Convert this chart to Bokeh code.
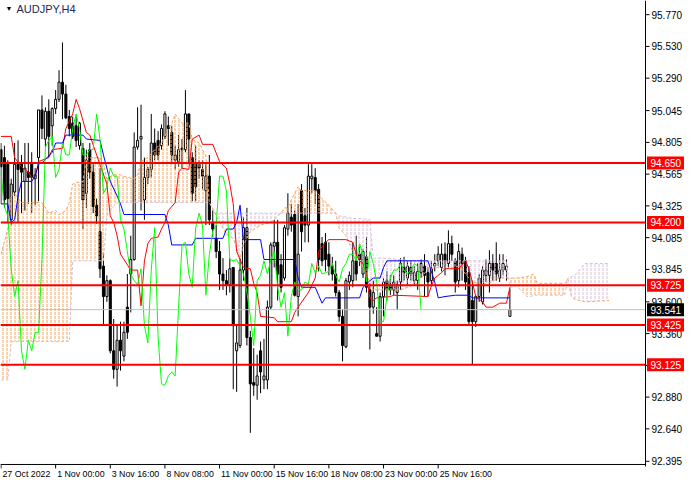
from bokeh.core.properties import value
from bokeh.embed import file_html
from bokeh.models import ColumnDataSource
from bokeh.plotting import figure
from bokeh.resources import INLINE

SYMBOL = "AUDJPY,H4"

# time axis (bar index -> label)
time_ticks = [0, 16, 32, 48, 64, 80, 96, 112, 128]
time_labels = ["27 Oct 2022", "1 Nov 00:00", "3 Nov 16:00", "8 Nov 08:00", "11 Nov 00:00",
               "15 Nov 16:00", "18 Nov 08:00", "23 Nov 00:00", "25 Nov 16:00"]

# price axis
price_ticks = [95.770, 95.530, 95.290, 95.045, 94.805, 94.565, 94.325, 94.085,
               93.845, 93.600, 93.360, 93.120, 92.880, 92.640, 92.395]

# horizontal levels and last price
levels = [94.650, 94.200, 93.725, 93.425, 93.125]
last_price = 93.541

# H4 candles
open_ = [94.75, 94.69, 94.64, 94.22, 94.43, 94.64, 94.64, 94.51, 94.58, 94.65,
         94.53, 94.69, 95.05, 94.83, 95.04, 94.93, 95.06, 95.13, 95.26, 95.17,
         95.00, 94.95, 94.93, 94.78, 94.76, 94.42, 94.75, 94.58, 94.33, 94.13,
         93.87, 93.64, 93.76, 93.23, 93.09, 93.31, 93.19, 93.56, 93.81, 93.92,
         94.77, 94.83, 94.37, 94.54, 94.60, 94.80, 94.82, 94.78, 94.85, 94.93,
         94.88, 94.67, 94.66, 94.76, 94.75, 95.02, 94.69, 94.64, 94.64, 94.60,
         94.44, 94.55, 94.20, 94.08, 93.98, 93.81, 93.76, 93.73, 93.86, 93.23,
         93.27, 93.84, 94.16, 93.33, 92.99, 92.97, 93.23, 93.01, 93.01, 93.56,
         94.02, 94.05, 93.88, 93.78, 94.15, 94.24, 94.26, 93.64, 94.44, 94.25,
         94.18, 94.53, 94.54, 94.45, 94.04, 94.05, 93.96, 93.87, 93.81, 93.67,
         93.49, 93.26, 93.75, 93.76, 93.91, 93.96, 93.81, 93.94, 93.69, 93.56,
         93.36, 93.34, 93.64, 93.76, 93.73, 93.69, 93.67, 93.75, 93.86, 93.78,
         93.86, 93.76, 93.76, 93.82, 93.87, 93.82, 93.76, 93.87, 93.91, 93.86,
         93.96, 93.89, 94.04, 93.91, 93.76, 93.96, 93.91, 93.82, 93.61, 93.45,
         93.64, 93.60, 93.80, 93.80, 93.89, 93.89, 93.78, 93.84, 93.84, 93.49]
high = [94.80, 94.78, 94.67, 94.53, 94.80, 94.82, 94.71, 94.80, 94.80, 94.73,
        94.61, 95.05, 95.16, 95.07, 95.13, 95.07, 95.20, 95.35, 95.56, 95.24,
        95.05, 95.00, 95.00, 94.96, 94.80, 94.75, 94.80, 94.64, 94.38, 94.61,
        93.97, 93.80, 93.77, 93.47, 93.42, 93.45, 93.45, 93.81, 94.10, 94.88,
        95.07, 95.09, 94.69, 94.62, 95.02, 94.91, 94.89, 94.94, 95.04, 95.00,
        94.93, 94.78, 94.86, 94.83, 95.20, 95.02, 94.73, 94.78, 94.67, 94.67,
        94.64, 94.71, 94.29, 94.18, 94.06, 93.93, 93.84, 93.93, 93.86, 93.42,
        93.93, 94.24, 94.31, 93.38, 93.25, 93.20, 93.30, 93.32, 93.61, 94.05,
        94.22, 94.22, 93.96, 94.18, 94.42, 94.34, 94.29, 94.34, 94.49, 94.31,
        94.64, 94.64, 94.61, 94.49, 94.09, 94.12, 94.05, 93.94, 93.91, 93.69,
        93.54, 93.78, 93.83, 94.05, 94.10, 94.02, 94.00, 94.09, 93.74, 93.76,
        93.56, 93.67, 93.78, 93.83, 93.80, 93.80, 93.76, 93.93, 93.94, 93.91,
        93.91, 93.87, 93.89, 93.92, 93.96, 93.86, 93.91, 93.96, 94.02, 94.04,
        94.05, 94.14, 94.10, 93.93, 94.04, 94.01, 93.94, 93.87, 93.76, 93.65,
        93.81, 93.87, 93.92, 93.99, 93.96, 94.05, 93.96, 93.96, 93.92, 93.70]
low = [94.34, 94.31, 94.20, 94.18, 94.40, 94.20, 94.27, 94.29, 94.34, 94.27,
       94.33, 94.36, 94.83, 94.77, 94.69, 94.78, 95.02, 95.11, 94.98, 94.98,
       94.85, 94.83, 94.77, 94.75, 94.15, 94.31, 94.53, 94.27, 94.19, 93.78,
       93.42, 93.60, 93.21, 93.02, 92.96, 93.08, 93.15, 93.32, 93.52, 93.91,
       94.75, 94.29, 94.22, 94.49, 94.54, 94.67, 94.67, 94.75, 94.83, 94.78,
       94.64, 94.60, 94.62, 94.61, 94.73, 94.64, 94.36, 94.36, 94.53, 94.45,
       94.18, 94.18, 94.09, 93.93, 93.69, 93.69, 93.65, 93.67, 92.94, 92.92,
       93.25, 93.76, 93.27, 92.61, 92.89, 92.86, 92.91, 92.94, 92.94, 93.54,
       93.86, 93.61, 93.67, 93.76, 94.10, 94.13, 93.64, 93.49, 93.98, 94.05,
       94.05, 94.42, 94.34, 93.83, 93.87, 93.83, 93.80, 93.76, 93.64, 93.45,
       93.15, 93.25, 93.69, 93.71, 93.76, 93.87, 93.78, 93.67, 93.24, 93.51,
       93.34, 93.30, 93.49, 93.61, 93.65, 93.65, 93.54, 93.69, 93.76, 93.73,
       93.76, 93.73, 93.69, 93.78, 93.64, 93.64, 93.73, 93.83, 93.87, 93.83,
       93.80, 93.86, 93.91, 93.67, 93.71, 93.76, 93.69, 93.43, 93.13, 93.41,
       93.60, 93.58, 93.75, 93.67, 93.76, 93.76, 93.75, 93.80, 93.76, 93.49]
close = [94.62, 94.37, 94.38, 94.49, 94.64, 94.60, 94.58, 94.61, 94.54, 94.54,
         94.56, 95.05, 94.91, 95.04, 94.85, 95.06, 95.13, 95.26, 95.17, 94.99,
         94.91, 94.85, 94.82, 94.95, 94.37, 94.67, 94.58, 94.32, 94.25, 93.85,
         93.64, 93.76, 93.23, 93.09, 93.31, 93.23, 93.37, 93.37, 93.92, 94.77,
         94.82, 94.85, 94.54, 94.60, 94.80, 94.71, 94.71, 94.91, 95.02, 94.91,
         94.71, 94.71, 94.75, 94.75, 95.02, 94.83, 94.42, 94.47, 94.61, 94.55,
         94.55, 94.22, 94.15, 93.98, 93.81, 93.76, 93.73, 93.85, 93.42, 93.29,
         93.84, 94.16, 93.33, 92.98, 92.97, 93.04, 93.07, 93.04, 93.56, 94.03,
         94.05, 93.81, 93.71, 94.16, 94.27, 94.18, 93.65, 93.96, 94.13, 94.18,
         94.55, 94.55, 94.44, 93.92, 93.91, 93.92, 93.87, 93.81, 93.67, 93.49,
         93.27, 93.76, 93.80, 93.91, 93.81, 93.92, 93.98, 93.71, 93.56, 93.67,
         93.34, 93.64, 93.75, 93.69, 93.69, 93.75, 93.73, 93.89, 93.82, 93.87,
         93.81, 93.82, 93.83, 93.89, 93.80, 93.75, 93.85, 93.89, 93.96, 93.96,
         93.91, 94.04, 93.96, 93.75, 93.98, 93.89, 93.75, 93.45, 93.45, 93.64,
         93.78, 93.84, 93.84, 93.89, 93.84, 93.81, 93.84, 93.89, 93.87, 93.541]

# Ichimoku: tenkan-sen (red) and kijun-sen (blue), read at their turning points
tenkan_bar = [0, 3, 4, 6, 8, 9, 10, 11, 14, 15, 18, 19, 21, 22, 23, 25, 26, 28, 31, 32,
              33, 34, 35, 38, 40, 41, 42, 43, 44, 46, 47, 48, 49, 51, 52, 53, 55, 56, 58, 59,
              62, 64, 66, 67, 68, 69, 71, 73, 74, 75, 76, 80, 81, 85, 86, 87, 90, 92, 93, 95,
              96, 101, 103, 104, 105, 106, 107, 108, 109, 110, 114, 115, 125, 126, 127, 128, 129, 130, 134, 136,
              137, 138, 139, 141, 142, 144, 146, 148, 149]
tenkan = [94.85, 94.85, 94.69, 94.62, 94.58, 94.54, 94.54, 94.66, 94.69, 94.75,
          94.76, 94.91, 95.02, 95.13, 95.06, 94.88, 94.86, 94.71, 94.49, 94.25,
          94.20, 94.10, 93.96, 93.84, 93.84, 93.57, 93.91, 94.04, 94.08, 94.09,
          94.15, 94.20, 94.29, 94.35, 94.58, 94.61, 94.60, 94.83, 94.86, 94.79,
          94.79, 94.66, 94.61, 94.49, 94.34, 93.98, 93.86, 93.85, 93.74, 93.67,
          93.49, 93.48, 93.45, 93.45, 93.52, 93.56, 93.67, 93.78, 93.98, 94.05,
          94.07, 94.07, 94.05, 93.96, 93.91, 93.89, 93.81, 93.63, 93.61, 93.63,
          93.64, 93.65, 93.64, 93.72, 93.78, 93.80, 93.82, 93.85, 93.85, 93.91,
          93.85, 93.75, 93.64, 93.60, 93.56, 93.56, 93.59, 93.59, 93.71]
kijun_bar = [0, 2, 3, 4, 5, 6, 9, 10, 11, 12, 15, 16, 18, 19, 24, 25, 29, 30, 32, 34,
             35, 36, 48, 49, 50, 56, 57, 65, 66, 68, 69, 70, 71, 76, 77, 86, 87, 88, 92, 93,
             94, 95, 105, 106, 108, 109, 111, 112, 113, 125, 127, 128, 130, 133, 137, 138, 149]
kijun = [94.34, 94.34, 94.20, 94.22, 94.40, 94.51, 94.51, 94.55, 94.64, 94.65,
         94.73, 94.80, 94.80, 94.86, 94.86, 94.83, 94.82, 94.71, 94.51, 94.40,
         94.34, 94.26, 94.26, 94.18, 94.03, 94.03, 94.08, 94.08, 94.15, 94.15,
         94.20, 94.33, 94.07, 94.07, 93.92, 93.92, 93.78, 93.71, 93.71, 93.65,
         93.59, 93.63, 93.63, 93.71, 93.76, 93.78, 93.78, 93.86, 93.91, 93.91,
         93.75, 93.63, 93.64, 93.65, 93.65, 93.63, 93.63]

# Ichimoku cloud: senkou span A (sandy) and span B (thistle)
cloud_bar = [0, 2, 3, 4, 6, 12, 13, 14, 16, 17,
             19, 20, 21, 22, 24, 25, 29, 30, 31, 33,
             34, 35, 37, 39, 40, 41, 43, 45, 47, 49,
             50, 51, 53, 55, 56, 58, 60, 61, 63, 66,
             68, 70, 71, 73, 76, 79, 82, 83, 84, 85,
             87, 88, 92, 94, 96, 98, 99, 101, 103, 105,
             108, 109, 112, 117, 120, 122, 125, 128, 130, 134,
             138, 141, 144, 145, 148, 149, 151, 154, 155, 156,
             157, 165, 166, 167, 168, 171, 178]
span_a = [93.96, 94.15, 94.40, 94.42, 94.35, 94.35, 94.31, 94.27, 94.29, 94.26,
          94.29, 94.35, 94.49, 94.50, 94.51, 94.69, 94.69, 94.64, 94.53, 94.56,
          94.56, 94.56, 94.54, 94.53, 94.56, 94.66, 94.69, 94.75, 94.80, 94.91,
          94.95, 95.02, 94.95, 94.95, 94.83, 94.80, 94.70, 94.35, 94.25, 94.11,
          94.08, 93.93, 94.03, 94.13, 94.18, 94.20, 94.27, 94.31, 94.31, 94.37,
          94.47, 94.44, 94.44, 94.38, 94.33, 94.27, 94.16, 94.10, 93.98, 93.91,
          93.75, 93.69, 93.69, 93.69, 93.72, 93.74, 93.85, 93.86, 93.85, 93.87,
          93.75, 93.73, 93.75, 93.78, 93.78, 93.78, 93.78, 93.79, 93.80, 93.81,
          93.74, 93.74, 93.77, 93.64, 93.62, 93.60, 93.61]
span_b = [93.01, 93.01, 93.30, 93.30, 93.30, 93.30, 93.30, 93.30, 93.30, 93.30,
          93.30, 93.30, 93.91, 93.91, 93.91, 93.91, 93.91, 93.91, 94.25, 94.32,
          94.35, 94.35, 94.35, 94.35, 94.35, 94.35, 94.35, 94.35, 94.35, 94.35,
          94.35, 94.35, 94.35, 94.35, 94.35, 94.35, 94.35, 94.35, 94.27, 94.27,
          94.27, 94.27, 94.27, 94.27, 94.27, 94.27, 94.27, 94.27, 94.27, 94.27,
          94.27, 94.27, 94.27, 94.27, 94.27, 94.27, 94.25, 94.24, 94.23, 94.23,
          94.22, 93.93, 93.93, 93.92, 93.91, 93.91, 93.91, 93.91, 93.91, 93.91,
          93.91, 93.91, 93.91, 93.91, 93.91, 93.71, 93.72, 93.64, 93.64, 93.65,
          93.65, 93.65, 93.78, 93.79, 93.80, 93.89, 93.89]

CHIKOU_SHIFT = 26

assert len(open_) == len(high) == len(low) == len(close) == 150
assert len(tenkan_bar) == len(tenkan) and len(kijun_bar) == len(kijun)
assert len(cloud_bar) == len(span_a) == len(span_b)

FONT = "Liberation Sans"
SANDY = "#F4A460"
THISTLE = "#D8BFD8"
RED = "#FF0000"

# canvas geometry: the whole canvas is the frame, axes are drawn by hand
W, H = 684, 484
PX_PER_BAR = 3.4156
PX_PER_PRICE = 132.34
X0 = -0.14
X1 = X0 + W / PX_PER_BAR
Y1 = 95.877
Y0 = Y1 - H / PX_PER_PRICE
AXIS_X = 188.7          # right price scale
BASE_Y = 92.371         # bottom time scale


def dx(px):
    return px / PX_PER_BAR


def dy(px):
    return px / PX_PER_PRICE


bars = list(range(len(close)))
candles = ColumnDataSource(data={
    "x": bars,
    "high": high,
    "low": low,
    "top": [max(o, c) for o, c in zip(open_, close)],
    "bottom": [min(o, c) for o, c in zip(open_, close)],
    "fill": ["white" if c >= o else "black" for o, c in zip(open_, close)],
})

p = figure(
    width=W,
    height=H,
    x_range=(X0, X1),
    y_range=(Y0, Y1),
    x_axis_location=None,
    y_axis_location=None,
    toolbar_location=None,
    output_backend="svg",
    min_border=0,
)
p.outline_line_color = None
p.grid.visible = False
p.background_fill_color = "white"
p.border_fill_color = "white"

# candles
p.segment(x0="x", y0="low", x1="x", y1="high", source=candles, line_color="black", line_width=1)
p.vbar(x="x", width=0.6, top="top", bottom="bottom", source=candles,
       fill_color="fill", line_color="black", line_width=1)

# cloud hatch: sandy where A is above B, thistle where B is above A
upper = [max(a, b) for a, b in zip(span_a, span_b)]
p.varea(x=cloud_bar, y1=span_b, y2=upper, fill_alpha=0,
        hatch_pattern="vertical_dash", hatch_color=SANDY, hatch_scale=4, hatch_weight=1)
p.varea(x=cloud_bar, y1=span_a, y2=upper, fill_alpha=0,
        hatch_pattern="vertical_dash", hatch_color=THISTLE, hatch_scale=4, hatch_weight=1)
p.line(cloud_bar, span_a, line_color=SANDY, line_width=1, line_dash="3 2")
p.line(cloud_bar, span_b, line_color=THISTLE, line_width=1, line_dash="3 2")

# ichimoku lines
p.line(tenkan_bar, tenkan, line_color=RED, line_width=1)
p.line(kijun_bar, kijun, line_color="#0000FF", line_width=1)
p.line([b - CHIKOU_SHIFT for b in bars[CHIKOU_SHIFT:]], close[CHIKOU_SHIFT:],
       line_color="#00FF00", line_width=1)

# level lines up to the price scale
p.segment(x0=[X0], y0=[last_price], x1=[AXIS_X], y1=[last_price], line_color="#C0C0C0", line_width=1)
p.segment(x0=[X0] * len(levels), y0=levels, x1=[AXIS_X] * len(levels), y1=levels,
          line_color=RED, line_width=2)

# axis lines
p.segment(x0=[X0, AXIS_X], y0=[BASE_Y, BASE_Y - dy(2)], x1=[AXIS_X, AXIS_X], y1=[BASE_Y, Y1],
          line_color="black", line_width=1)

# price scale
p.segment(x0=[AXIS_X] * len(price_ticks), y0=price_ticks,
          x1=[AXIS_X + dx(4)] * len(price_ticks), y1=price_ticks, line_color="black", line_width=1)
p.text(x=[AXIS_X + dx(6)] * len(price_ticks), y=price_ticks, text=[f"{t:.3f}" for t in price_ticks],
       text_font=value(FONT), text_font_size="10px", text_color="black", text_baseline="middle")

# time scale
p.segment(x0=time_ticks, y0=[BASE_Y] * len(time_ticks), x1=time_ticks,
          y1=[BASE_Y - dy(4)] * len(time_ticks), line_color="black", line_width=1)
p.text(x=[t + dx(1.5) for t in time_ticks], y=[BASE_Y - dy(4.5)] * len(time_ticks), text=time_labels,
       text_font=value(FONT), text_font_size="8.8px", text_color="black", text_baseline="top")

# price tags on the scale
tag_prices = levels + [last_price]
tag_colors = [RED] * len(levels) + ["black"]
p.quad(left=[AXIS_X + dx(1.5)] * len(tag_prices), right=[X1] * len(tag_prices),
       top=[t + dy(6.5) for t in tag_prices], bottom=[t - dy(6.5) for t in tag_prices],
       fill_color=tag_colors, line_color=None)
p.text(x=[AXIS_X + dx(5)] * len(tag_prices), y=tag_prices, text=[f"{t:.3f}" for t in tag_prices],
       text_font=value(FONT), text_font_size="10px", text_color="white", text_baseline="middle")

# symbol caption
p.text(x=[X0 + dx(5)], y=[Y1 - dy(8)], text=["\u25bc"], text_font=value(FONT), text_font_size="7px",
       text_color="black", text_baseline="middle")
p.text(x=[X0 + dx(16)], y=[Y1 - dy(8)], text=[SYMBOL], text_font=value(FONT), text_font_size="11px",
       text_color="#1c2a5a", text_baseline="middle")

open("out.html", "w").write(file_html(p, INLINE))
